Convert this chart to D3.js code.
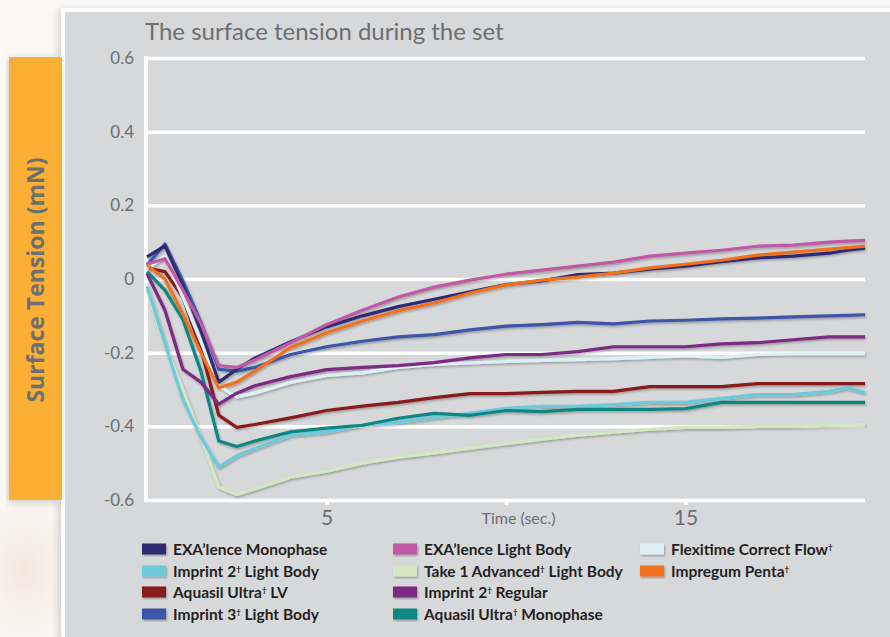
<!DOCTYPE html>
<html>
<head>
<meta charset="utf-8">
<script src="https://cdn.jsdelivr.net/npm/d3@7/dist/d3.min.js"></script>
<style>
  html, body { margin: 0; padding: 0; background: #fbf9f6; overflow: hidden; }
  svg { display: block; }
</style>
</head>
<body>
<div id="chart"></div>
<script>
// Sample times (sec.)
const times = [0, 0.5, 1, 1.5, 2, 2.5, 3, 4, 5, 6, 7, 8, 9, 10, 11, 12, 13, 14, 15, 16, 17, 18, 19, 19.5, 20];

// Surface tension (mN), one array per material
const exaMonophase  = [0.06, 0.09, -0.016, -0.14, -0.28, -0.245, -0.215, -0.17, -0.13, -0.1, -0.075, -0.055, -0.035, -0.015, -0.005, 0.012, 0.016, 0.027, 0.035, 0.047, 0.057, 0.062, 0.07, 0.078, 0.084];
const exaLightBody  = [0.04, 0.055, -0.03, -0.12, -0.235, -0.24, -0.22, -0.173, -0.124, -0.085, -0.049, -0.022, -0.003, 0.013, 0.024, 0.035, 0.046, 0.062, 0.07, 0.078, 0.089, 0.092, 0.1, 0.103, 0.105];
const flexitime     = [0.027, 0.062, -0.05, -0.17, -0.29, -0.32, -0.31, -0.281, -0.262, -0.255, -0.24, -0.232, -0.228, -0.224, -0.221, -0.219, -0.216, -0.213, -0.209, -0.213, -0.205, -0.203, -0.203, -0.203, -0.203];
const imprint2LB    = [-0.02, -0.175, -0.327, -0.43, -0.51, -0.48, -0.46, -0.424, -0.415, -0.397, -0.389, -0.376, -0.365, -0.351, -0.346, -0.346, -0.341, -0.335, -0.335, -0.324, -0.314, -0.314, -0.305, -0.295, -0.308];
const take1         = [-0.03, -0.18, -0.3, -0.43, -0.565, -0.585, -0.57, -0.538, -0.522, -0.5, -0.484, -0.472, -0.459, -0.447, -0.435, -0.424, -0.416, -0.408, -0.403, -0.403, -0.4, -0.4, -0.397, -0.396, -0.395];
const impregum      = [0.038, 0.0, -0.095, -0.2, -0.295, -0.28, -0.25, -0.186, -0.146, -0.114, -0.086, -0.065, -0.038, -0.016, -0.003, 0.005, 0.016, 0.03, 0.04, 0.051, 0.065, 0.073, 0.081, 0.085, 0.089];
const aquasilLV     = [0.03, 0.02, -0.05, -0.19, -0.37, -0.403, -0.395, -0.377, -0.357, -0.345, -0.335, -0.322, -0.311, -0.311, -0.308, -0.305, -0.305, -0.292, -0.292, -0.292, -0.284, -0.284, -0.284, -0.284, -0.284];
const imprint2Reg   = [0.015, -0.085, -0.245, -0.28, -0.34, -0.31, -0.29, -0.265, -0.246, -0.24, -0.235, -0.227, -0.214, -0.205, -0.205, -0.197, -0.184, -0.184, -0.184, -0.176, -0.173, -0.165, -0.157, -0.157, -0.157];
const imprint3LB    = [0.038, 0.095, -0.005, -0.117, -0.245, -0.25, -0.24, -0.205, -0.184, -0.169, -0.157, -0.151, -0.138, -0.128, -0.124, -0.118, -0.122, -0.114, -0.112, -0.108, -0.106, -0.103, -0.1, -0.099, -0.097];
const aquasilMono   = [0.02, -0.03, -0.11, -0.25, -0.44, -0.455, -0.44, -0.415, -0.405, -0.397, -0.378, -0.365, -0.37, -0.357, -0.36, -0.354, -0.354, -0.354, -0.352, -0.335, -0.335, -0.335, -0.335, -0.335, -0.335];

// Legend columns (order as in the legend)
const legendNames = [
  ["EXA’lence Monophase", "Imprint 2† Light Body", "Aquasil Ultra† LV", "Imprint 3† Light Body"],
  ["EXA’lence Light Body", "Take 1 Advanced† Light Body", "Imprint 2† Regular", "Aquasil Ultra† Monophase"],
  ["Flexitime Correct Flow†", "Impregum Penta†"]
];
const legendValues = [
  [exaMonophase, imprint2LB, aquasilLV, imprint3LB],
  [exaLightBody, take1, imprint2Reg, aquasilMono],
  [flexitime, impregum]
];
const legendColors = [
  ["#2d2c72", "#6dcadb", "#861a1e", "#3c56a9"],
  ["#c05aa6", "#d3e8c2", "#7b2a83", "#108782"],
  ["#dcf0f5", "#f1701f"]
];

// Drawing order, back to front
const drawOrder = [take1, imprint2LB, aquasilMono, aquasilLV, flexitime, imprint2Reg, imprint3LB, exaMonophase, exaLightBody, impregum];

const yTicks = [0.6, 0.4, 0.2, 0, -0.2, -0.4, -0.6];
const yTickLabels = ["0.6", "0.4", "0.2", "0", "-0.2", "-0.4", "-0.6"];
const xTicks = [5, 10, 15];
const xTickLabels = ["5", "Time (sec.)", "15"];

const W = 890, H = 637;
const grey = "#6d6e71";

const svg = d3.select("#chart").append("svg")
  .attr("width", W)
  .attr("height", H);

const defs = svg.append("defs");
const shadow = defs.append("filter").attr("id", "shadow")
  .attr("x", "-10%").attr("y", "-10%").attr("width", "130%").attr("height", "130%");
shadow.append("feDropShadow")
  .attr("dx", 1).attr("dy", 1.5).attr("stdDeviation", 1.2)
  .attr("flood-color", "#000").attr("flood-opacity", 0.3);

const panelShadow = defs.append("filter").attr("id", "panelShadow")
  .attr("x", "-5%").attr("y", "-5%").attr("width", "110%").attr("height", "110%");
panelShadow.append("feDropShadow")
  .attr("dx", -2).attr("dy", 2).attr("stdDeviation", 4)
  .attr("flood-color", "#000").attr("flood-opacity", 0.18);

const glow = defs.append("radialGradient").attr("id", "glow")
  .attr("cx", 0.5).attr("cy", 0.5).attr("r", 0.5);
glow.append("stop").attr("offset", "0%").attr("stop-color", "#f1e2d2").attr("stop-opacity", 0.8);
glow.append("stop").attr("offset", "100%").attr("stop-color", "#fbf9f6").attr("stop-opacity", 0);

// page background with a warm blur at lower left
svg.append("rect").attr("width", W).attr("height", H).attr("fill", "#fbf9f6");
svg.append("ellipse")
  .attr("cx", 25).attr("cy", 570).attr("rx", 80).attr("ry", 120)
  .attr("fill", "url(#glow)");

// grey panel with white border
svg.append("rect")
  .attr("x", 61).attr("y", 8).attr("width", W).attr("height", H)
  .attr("fill", "#ffffff")
  .attr("filter", "url(#panelShadow)");
svg.append("rect")
  .attr("x", 65).attr("y", 12).attr("width", W).attr("height", H)
  .attr("fill", "#d7d8da");

// orange axis-title box
svg.append("rect")
  .attr("x", 9).attr("y", 57).attr("width", 53).attr("height", 443)
  .attr("fill", "#fbb034")
  .attr("filter", "url(#panelShadow)");
svg.append("text")
  .attr("transform", "translate(44,280) rotate(-90)")
  .attr("text-anchor", "middle")
  .attr("font-family", "'Open Sans', sans-serif")
  .attr("font-weight", 700)
  .attr("font-size", 23)
  .attr("fill", grey)
  .text("Surface Tension (mN)");

// title
svg.append("text")
  .attr("x", 145).attr("y", 40)
  .attr("font-family", "Lato, sans-serif")
  .attr("font-size", 24)
  .attr("fill", grey)
  .text("The surface tension during the set");

// scales
const x = d3.scaleLinear().domain([0, 20]).range([147, 865]);
const y = d3.scaleLinear().domain([-0.6, 0.6]).range([500, 58]);

// y grid + labels
const yAxis = svg.append("g")
  .attr("transform", "translate(146,0)")
  .call(d3.axisLeft(y)
    .tickValues(yTicks)
    .tickSize(-(865 - 146))
    .tickPadding(12)
    .tickFormat((d, i) => yTickLabels[i]));
yAxis.select(".domain").remove();
yAxis.selectAll("line")
  .attr("stroke", "#ffffff")
  .attr("stroke-width", 3.5);
yAxis.selectAll("text")
  .attr("fill", grey)
  .attr("font-family", "Lato, sans-serif")
  .attr("font-size", 17);

// left axis line
svg.append("line")
  .attr("x1", 146).attr("x2", 146)
  .attr("y1", 56).attr("y2", 502)
  .attr("stroke", "#ffffff")
  .attr("stroke-width", 4);

// x axis ticks + labels
const xAxis = svg.append("g")
  .attr("transform", "translate(0,500)")
  .call(d3.axisBottom(x)
    .tickValues(xTicks)
    .tickSize(5)
    .tickPadding(4)
    .tickFormat((d, i) => xTickLabels[i]));
xAxis.select(".domain").remove();
xAxis.selectAll("line")
  .attr("stroke", "#ffffff")
  .attr("stroke-width", 4);
xAxis.selectAll("text")
  .attr("fill", grey)
  .attr("font-family", "Lato, sans-serif")
  .attr("font-size", (d, i) => xTickLabels[i].length > 3 ? 16 : 21)
  .attr("dx", (d, i) => xTickLabels[i].length > 3 ? 12 : 0)
  .attr("dy", (d, i) => xTickLabels[i].length > 3 ? "0.95em" : "0.75em");

// lines
const line = d3.line()
  .x((d, i) => x(times[i]))
  .y(d => y(d));

const colorOf = new Map();
legendValues.forEach((col, c) => col.forEach((vals, r) => colorOf.set(vals, legendColors[c][r])));

svg.append("g")
  .attr("filter", "url(#shadow)")
  .selectAll("path")
  .data(drawOrder)
  .join("path")
  .attr("d", line)
  .attr("fill", "none")
  .attr("stroke", d => colorOf.get(d))
  .attr("stroke-width", 3.2)
  .attr("stroke-linejoin", "round");

// legend
const colX = [142, 393, 640];
const rowY = [549, 571, 592, 614];
const legend = svg.append("g");
legendNames.forEach((col, c) => {
  col.forEach((name, r) => {
    legend.append("rect")
      .attr("x", colX[c]).attr("y", rowY[r] - 5.5)
      .attr("width", 24).attr("height", 11)
      .attr("fill", legendColors[c][r])
      .attr("filter", "url(#shadow)");
    const t = legend.append("text")
      .attr("x", colX[c] + 31).attr("y", rowY[r] + 5.5)
      .attr("font-family", "Lato, sans-serif")
      .attr("font-weight", 700)
      .attr("font-size", 15.5)
      .attr("fill", "#231f20");
    const parts = name.split("†");
    parts.forEach((p, k) => {
      if (p) t.append("tspan").text(p);
      if (k < parts.length - 1) {
        t.append("tspan")
          .attr("font-size", 8)
          .attr("baseline-shift", "60%")
          .text("†");
      }
    });
  });
});
</script>
</body>
</html>
